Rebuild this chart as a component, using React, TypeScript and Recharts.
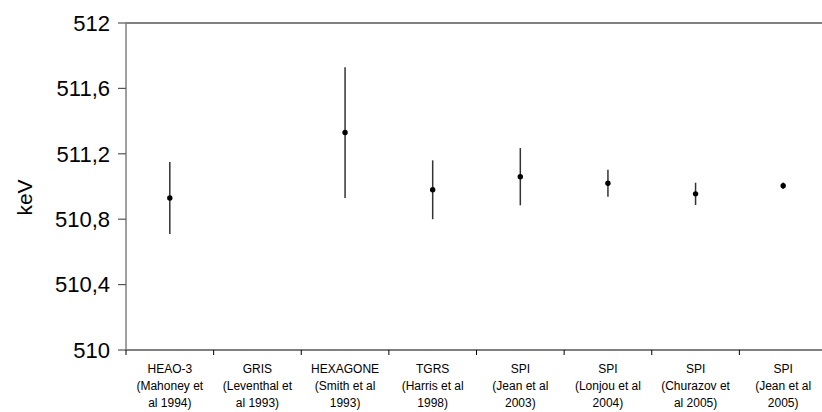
import React from 'react';
import { ComposedChart, Line, XAxis, YAxis, ErrorBar, ReferenceLine } from 'recharts';

// measurements of the 511 keV line centroid
const categories = [
  'HEAO-3\n(Mahoney et\nal 1994)',
  'GRIS\n(Leventhal et\nal 1993)',
  'HEXAGONE\n(Smith et al\n1993)',
  'TGRS\n(Harris et al\n1998)',
  'SPI\n(Jean et al\n2003)',
  'SPI\n(Lonjou et al\n2004)',
  'SPI\n(Churazov et\nal 2005)',
  'SPI\n(Jean et al\n2005)',
];
const energies = [510.93, null, 511.33, 510.98, 511.06, 511.02, 510.955, 511.005];
const errors = [0.22, null, 0.4, 0.18, 0.175, 0.083, 0.068, 0.02];
const yTicks = [510, 510.4, 510.8, 511.2, 511.6, 512];

const data = categories.map((name, i) => ({ name, energy: energies[i], err: errors[i] }));

const FONT = '"Liberation Sans", Arial, sans-serif';
const CHART_W = 840;
const CHART_H = 412;
const Y_AXIS_W = 126;
const MARGIN = { top: 23, right: 13, left: 0, bottom: 0 };
const BAND = (CHART_W - Y_AXIS_W - MARGIN.left - MARGIN.right) / categories.length;

const CategoryTick = (props: any) => {
  const { x, y, payload } = props;
  const lines = String(payload.value).split('\n');
  const left = x - BAND / 2;
  return (
    <g>
      <line x1={left} y1={y} x2={left} y2={y + 5} stroke="#000" strokeWidth={1} />
      <text textAnchor="middle" fontSize={12} fontFamily={FONT} fill="#000">
        {lines.map((l, i) => (
          <tspan key={i} x={x} y={y + 23 + i * 16.8}>
            {l}
          </tspan>
        ))}
      </text>
    </g>
  );
};

const Dot = (props: any) => {
  const { cx, cy, index } = props;
  if (cx == null || cy == null || isNaN(cy)) return <g key={index} />;
  return <circle key={index} cx={cx} cy={cy} r={2.7} fill="#000" />;
};

export default function App() {
  return (
    <div style={{ position: 'absolute', left: 0, top: 0, width: 822, height: 412, overflow: 'hidden', background: '#fff' }}>
      <ComposedChart width={CHART_W} height={CHART_H} data={data} margin={MARGIN}>
        <XAxis
          dataKey="name"
          interval={0}
          padding={{ left: BAND / 2, right: BAND / 2 }}
          tickLine={false}
          tickSize={0}
          tickMargin={0}
          height={62}
          axisLine={{ stroke: '#000', strokeWidth: 1.2 }}
          tick={<CategoryTick />}
        />
        <YAxis
          width={Y_AXIS_W}
          domain={[510, 512]}
          ticks={yTicks}
          interval={0}
          tickFormatter={(v: number) => String(Number(v.toFixed(1))).replace('.', ',')}
          tick={{ fontSize: 22, fontFamily: FONT, fill: '#000' }}
          tickSize={8}
          tickMargin={8}
          axisLine={{ stroke: '#808080', strokeWidth: 1.5 }}
          tickLine={{ stroke: '#555', strokeWidth: 1.2 }}
          label={{
            content: (p: any) => {
              const vb = p.viewBox;
              const cx = vb.x + 32;
              const cy = vb.y + vb.height / 2 + 11;
              return (
                <text
                  x={cx}
                  y={cy}
                  textAnchor="middle"
                  fontSize={21}
                  fontFamily={FONT}
                  fill="#000"
                  transform={`rotate(-90, ${cx}, ${cy})`}
                >
                  keV
                </text>
              );
            },
          }}
        />
        <ReferenceLine y={512} stroke="#000" strokeWidth={1.2} />
        <Line
          dataKey="energy"
          stroke="none"
          dot={<Dot />}
          activeDot={false}
          isAnimationActive={false}
          connectNulls={false}
        >
          <ErrorBar dataKey="err" width={0} stroke="#333" strokeWidth={1.5} direction="y" />
        </Line>
      </ComposedChart>
    </div>
  );
}
